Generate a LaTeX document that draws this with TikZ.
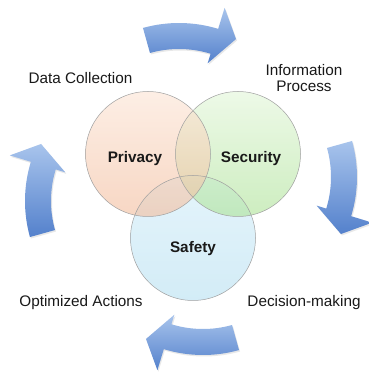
\documentclass[tikz,border=0pt]{standalone}
\usepackage{fontspec}
\setmainfont{Liberation Sans}
\usetikzlibrary{calc}
\definecolor{arrtop}{RGB}{168,196,236}
\definecolor{arrbot}{RGB}{84,129,204}
\definecolor{pritop}{RGB}{252,228,212}
\definecolor{pribot}{RGB}{243,188,156}
\definecolor{sectop}{RGB}{226,246,216}
\definecolor{secbot}{RGB}{172,226,150}
\definecolor{saftop}{RGB}{212,238,249}
\definecolor{safbot}{RGB}{182,224,242}
\definecolor{ringline}{RGB}{160,160,160}
\tikzset{
  arrowbody/.style={top color=arrtop, bottom color=arrbot},
  arrowshadow/.style={fill=black!50, fill opacity=0.18},
  venn/.style={circle, minimum size=125pt, inner sep=0pt, fill opacity=0.6},
  ring/.style={draw=ringline, line width=0.5pt},
  lbl/.style={font=\fontsize{15.3}{16}\selectfont, inner sep=0pt, text=black!90},
  blbl/.style={font=\fontsize{15.3}{16}\selectfont\bfseries, inner sep=0pt, text=black!90},
}
\newcommand{\cyclearrow}[4]{%
  \path[#4, shift={(#1,#2)}]
    ({105.6+#3}:134pt) arc[start angle={105.6+#3}, end angle={73+#3}, radius=134pt]
    -- ({73+#3}:156pt) -- ({64.2+#3}:131pt) -- ({73+#3}:98pt) -- ({73+#3}:108pt)
    arc[start angle={73+#3}, end angle={105.6+#3}, radius=108pt] -- cycle;
}
\begin{document}
\begin{tikzpicture}[x=1pt,y=1pt]
\useasboundingbox (0,0) rectangle (368,372);
\fill[white] (0,0) rectangle (368,372);
% cycle arrows (shadow then body)
\cyclearrow{180}{213.5}{0}{arrowshadow}
\cyclearrow{224}{193.5}{-90}{arrowshadow}
\cyclearrow{204}{149.5}{-180}{arrowshadow}
\cyclearrow{160}{169.5}{-270}{arrowshadow}
\cyclearrow{179}{215}{0}{arrowbody}
\cyclearrow{223}{195}{-90}{arrowbody}
\cyclearrow{203}{151}{-180}{arrowbody}
\cyclearrow{159}{171}{-270}{arrowbody}
% venn circles
\node[venn, top color=saftop, bottom color=safbot] (safety) at (193,134) {};
\node[venn, top color=sectop, bottom color=secbot] (security) at (238,218) {};
\node[venn, top color=pritop, bottom color=pribot] (privacy) at (148,218) {};
\draw[ring] (safety.center) circle[radius=62.5pt];
\draw[ring] (security.center) circle[radius=62.5pt];
\draw[ring] (privacy.center) circle[radius=62.5pt];
% labels
\node[blbl, anchor=base] (tpriv) at (135,209) {Privacy};
\node[blbl, anchor=base] (tsec) at (251,209) {Security};
\node[blbl, anchor=base] (tsaf) at (193,119) {Safety};
\node[lbl, anchor=base] (data) at (80.5,288) {Data Collection};
\node[lbl, anchor=north, align=center] (info) at (304,307.5) {Information\\Process};
\node[lbl, anchor=base] (opt) at (81,65) {Optimized Actions};
\node[lbl, anchor=base] (dec) at (304,65) {Decision-making};
\end{tikzpicture}
\end{document}
